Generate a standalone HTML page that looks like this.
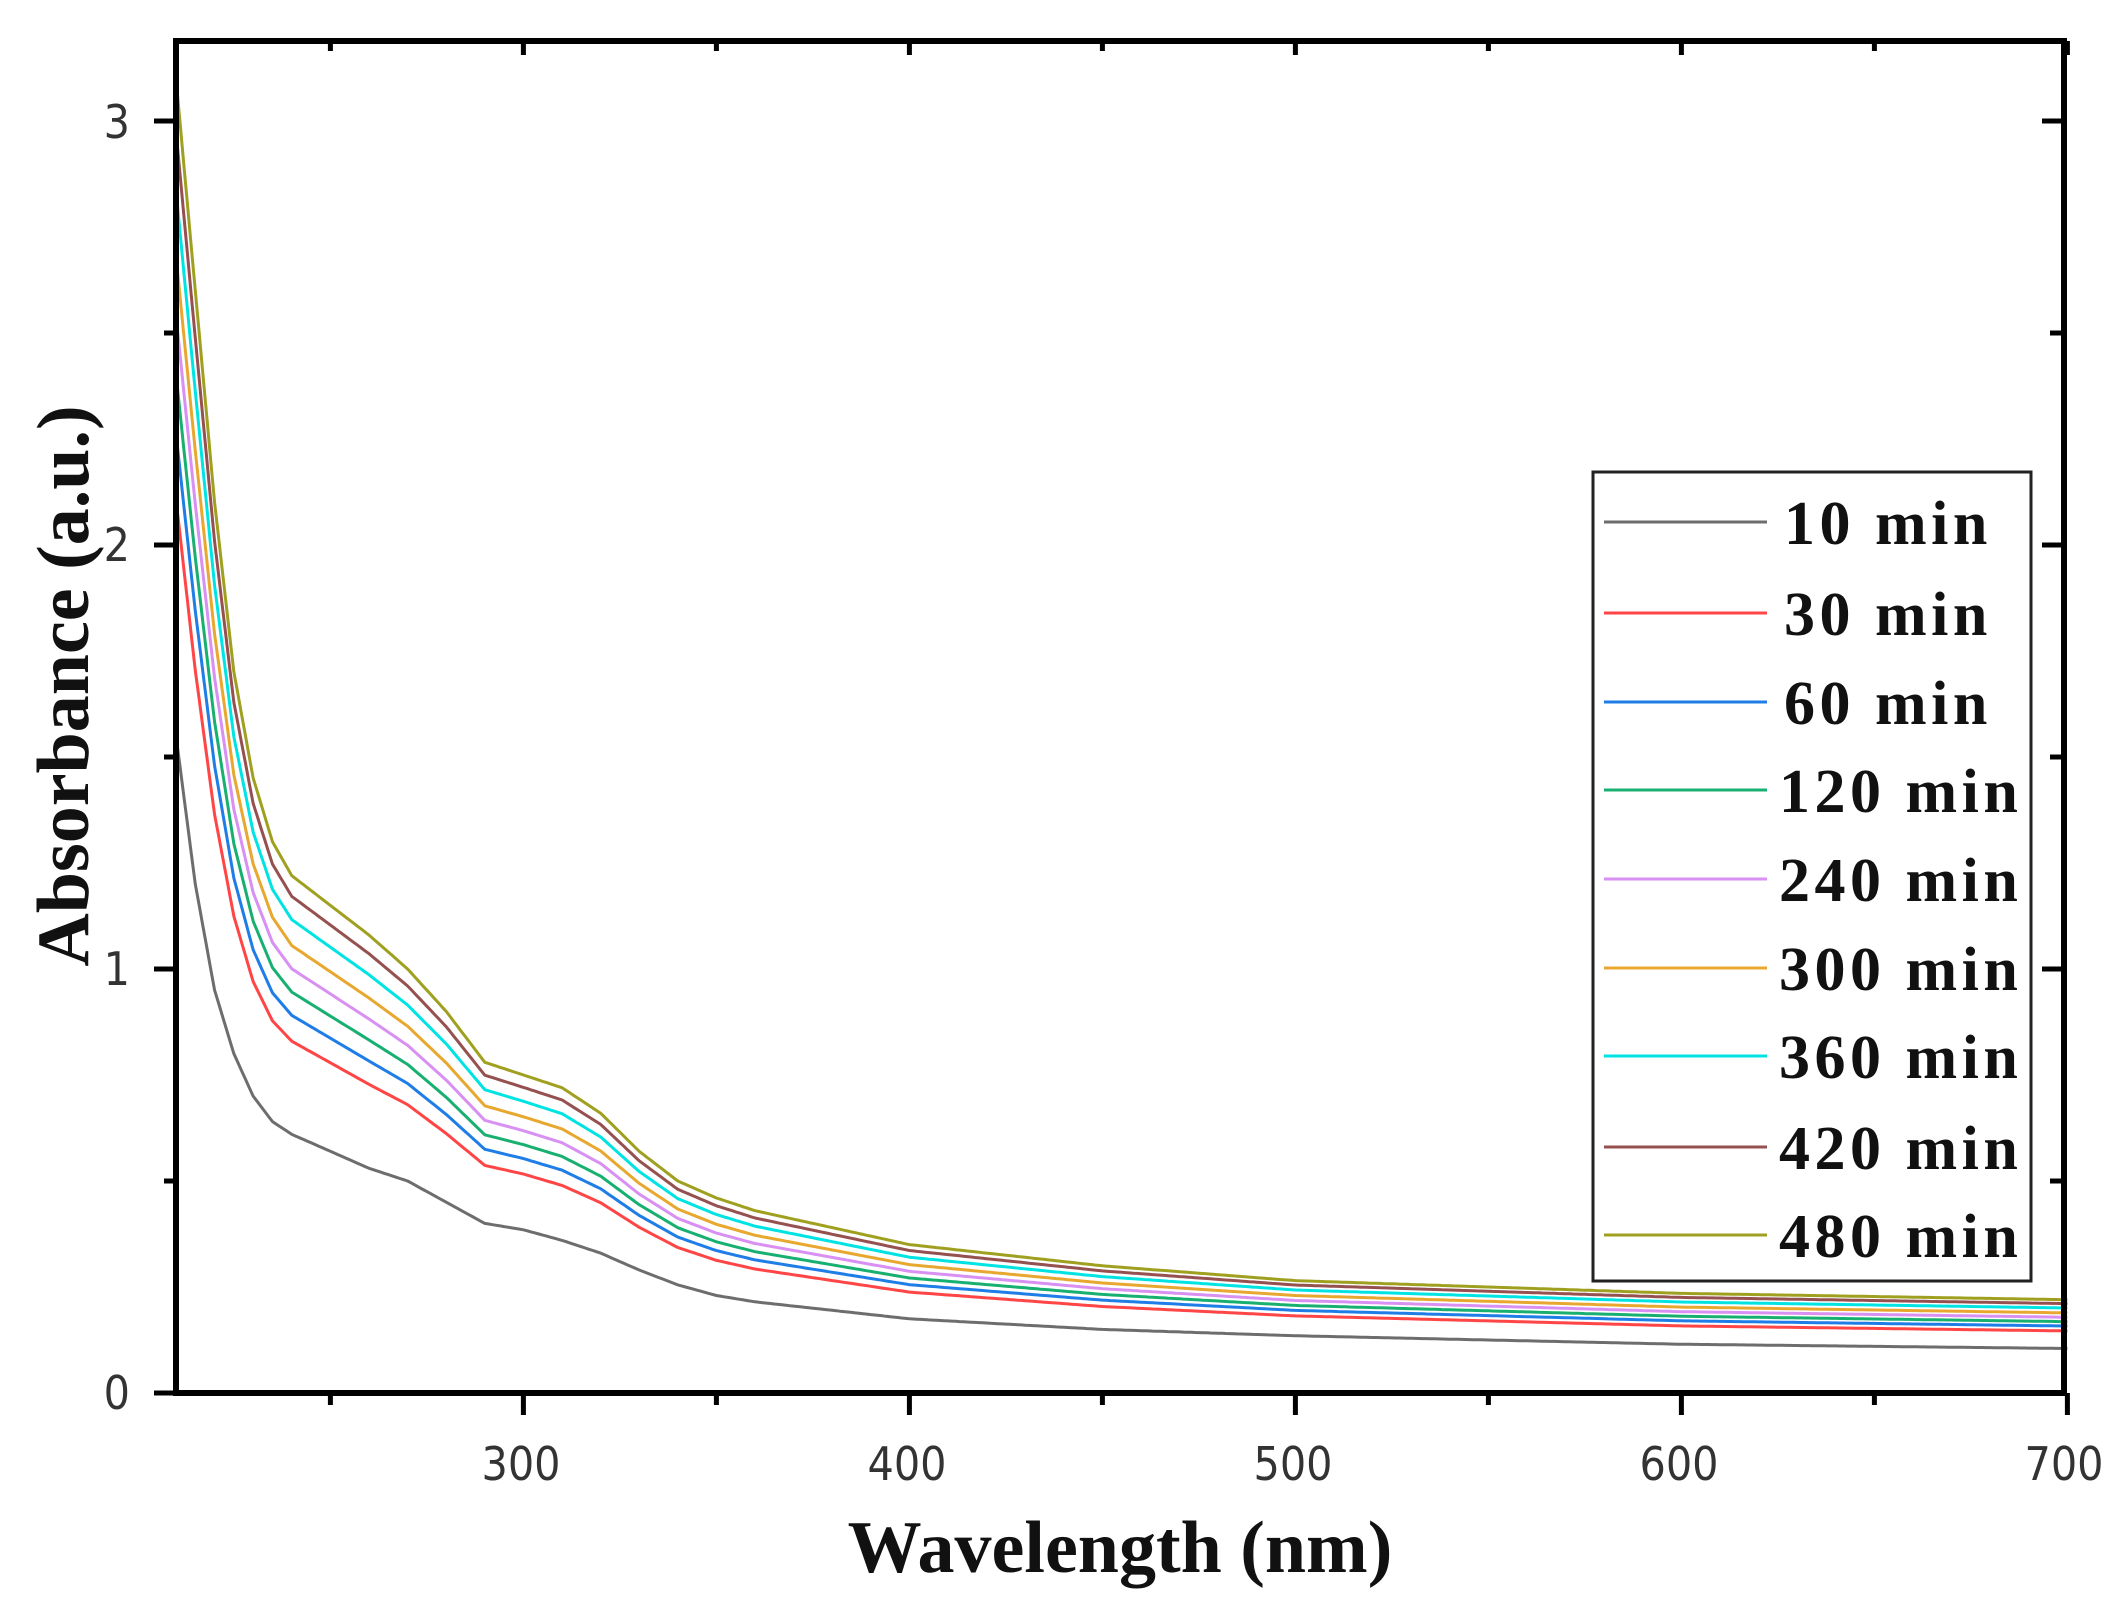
<!DOCTYPE html>
<html><head><meta charset="utf-8"><style>
html,body{margin:0;padding:0;background:#fff;width:2126px;height:1609px;overflow:hidden}
svg{display:block}
.tk{font-family:"DejaVu Sans Condensed","Liberation Sans Narrow","Liberation Sans",sans-serif;font-size:46px;fill:#333}
.lg{font-family:"Liberation Serif",serif;font-weight:bold;font-size:62px;letter-spacing:4.5px;fill:#111}
.ax{font-family:"Liberation Serif",serif;font-weight:bold;font-size:74px;fill:#111}
</style></head><body>
<svg id="s" width="2126" height="1609" xmlns="http://www.w3.org/2000/svg">
<g id="curves" fill="none" stroke-width="3" stroke-linejoin="round"></g>
<g stroke="#000" stroke-width="6" fill="none">
<rect x="176" y="41" width="1888" height="1352"/>
</g>
<g id="ticks" stroke="#000" stroke-width="5"></g>
<g class="tk" text-anchor="middle">
<text x="521" y="1480">300</text><text x="907" y="1480">400</text><text x="1293" y="1480">500</text><text x="1679" y="1480">600</text><text x="2064" y="1480">700</text>
</g>
<g class="tk" text-anchor="end">
<text x="130" y="1409">0</text><text x="130" y="985">1</text><text x="130" y="561">2</text><text x="130" y="138">3</text>
</g>
<text class="ax" x="1120" y="1572" text-anchor="middle">Wavelength (nm)</text>
<text class="ax" transform="translate(88,686) rotate(-90)" text-anchor="middle">Absorbance (a.u.)</text>
<rect x="1593" y="472" width="438" height="809" fill="#fff" stroke="#222" stroke-width="3"/>
<g id="leg"></g>
</svg>
<script>
var X=function(l){return 176+(l-210)*3.86},Y=function(a){return 1393-a*424};
var L=[210,215,220,225,230,235,240,250,260,270,280,290,300,310,320,330,340,350,360,380,400,450,500,600,700];
var B=[1.55,1.2,0.95,0.8,0.7,0.64,0.61,0.57,0.53,0.5,0.45,0.40,0.385,0.36,0.33,0.29,0.255,0.23,0.215,0.195,0.175,0.15,0.135,0.115,0.105];
var T=[3.1,2.6,2.1,1.7,1.45,1.3,1.22,1.15,1.08,1.0,0.9,0.78,0.75,0.72,0.66,0.57,0.5,0.46,0.43,0.39,0.35,0.3,0.265,0.235,0.22];
var C=["#6d6d6d","#ff4545","#1e7de6","#18b070","#d890f2","#e8a830","#00e3e3","#955050","#a0a020"];
var F=[0,0.36,0.46,0.55,0.64,0.73,0.83,0.92,1];
var N=["10 min","30 min","60 min","120 min","240 min","300 min","360 min","420 min","480 min"];
var ns="http://www.w3.org/2000/svg",g=document.getElementById("curves");
function interp(arr,l){for(var i=0;i<L.length-1;i++){if(l<=L[i+1]){var t=(l-L[i])/(L[i+1]-L[i]);return arr[i]+(arr[i+1]-arr[i])*t;}}return arr[arr.length-1];}
for(var k=0;k<9;k++){var d="";for(var l=210;l<=700;l+=1){var a=interp(B,l)+F[k]*(interp(T,l)-interp(B,l));d+=(l==210?"M":"L")+X(l).toFixed(1)+","+Y(a).toFixed(1);}
var p=document.createElementNS(ns,"path");p.setAttribute("d",d);p.setAttribute("stroke",C[k]);g.appendChild(p);}
var tk=document.getElementById("ticks"),s="";
function ln(x1,y1,x2,y2){s+='<line x1="'+x1+'" y1="'+y1+'" x2="'+x2+'" y2="'+y2+'"/>';}
for(var l=250;l<=700;l+=50){var x=X(l),maj=(l%100==0);ln(x,1393,x,1393+(maj?22:12));ln(x,41,x,41+(maj?14:10));}
for(var v=0;v<=3;v+=0.5){var y=Y(v),maj=(v%1==0);ln(176,y,176-(maj?22:12),y);ln(2064,y,2064-(maj?22:14),y);}
tk.innerHTML=s;
var lg=document.getElementById("leg"),h="";var ry=[522,613,702,790,879,968,1056,1147,1235];
for(var k=0;k<9;k++){h+='<line x1="1604" y1="'+ry[k]+'" x2="1767" y2="'+ry[k]+'" stroke="'+C[k]+'" stroke-width="3"/>';
h+='<text class="lg" x="'+(k<3?1784:1779)+'" y="'+(ry[k]+22)+'">'+N[k]+'</text>';}
lg.innerHTML=h;
</script>
</body></html>
